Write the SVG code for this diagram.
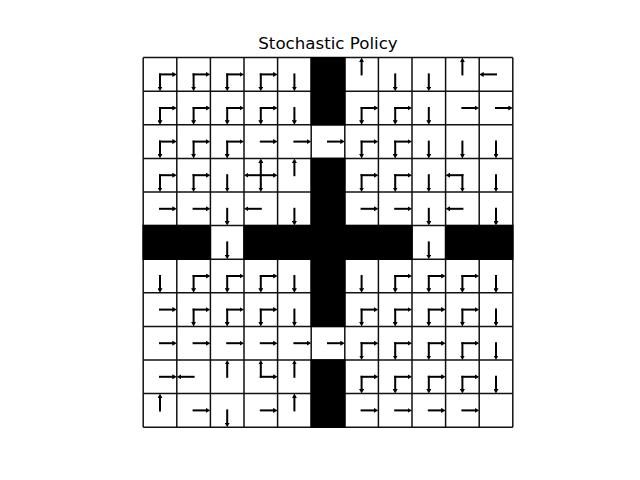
<svg xmlns="http://www.w3.org/2000/svg" xmlns:xlink="http://www.w3.org/1999/xlink" width="640" height="480" viewBox="0 0 640 480">
<style>
.title{font-family:"DejaVu Sans",sans-serif;font-size:16.67px;fill:#000}
.wall{fill:#000}
.grid line{stroke:#111;stroke-width:1.5}
.a{stroke:#000;stroke-width:2;stroke-linecap:square}
</style>
<defs>
<marker id="h" viewBox="0 0 4.5 5" refX="0" refY="2.5" markerWidth="4.5" markerHeight="5" markerUnits="userSpaceOnUse" orient="auto">
<path d="M0,0 L4.5,2.5 L0,5 z" fill="#000"/>
</marker>
<line id="R" class="a" x1="0" y1="0" x2="12.3" y2="0" marker-end="url(#h)"/>
<line id="L" class="a" x1="0" y1="0" x2="-12.3" y2="0" marker-end="url(#h)"/>
<line id="D" class="a" x1="0" y1="0" x2="0" y2="12.3" marker-end="url(#h)"/>
<line id="U" class="a" x1="0" y1="0" x2="0" y2="-12.3" marker-end="url(#h)"/>
</defs>
<rect width="640" height="480" fill="#fff"/>
<text class="title" x="328" y="49.3" text-anchor="middle">Stochastic Policy</text>
<g id="grid" class="grid">
<line x1="143.2" y1="57.6" x2="143.2" y2="427.2"/>
<line x1="176.8" y1="57.6" x2="176.8" y2="427.2"/>
<line x1="210.4" y1="57.6" x2="210.4" y2="427.2"/>
<line x1="244" y1="57.6" x2="244" y2="427.2"/>
<line x1="277.6" y1="57.6" x2="277.6" y2="427.2"/>
<line x1="311.2" y1="57.6" x2="311.2" y2="427.2"/>
<line x1="344.8" y1="57.6" x2="344.8" y2="427.2"/>
<line x1="378.4" y1="57.6" x2="378.4" y2="427.2"/>
<line x1="412" y1="57.6" x2="412" y2="427.2"/>
<line x1="445.6" y1="57.6" x2="445.6" y2="427.2"/>
<line x1="479.2" y1="57.6" x2="479.2" y2="427.2"/>
<line x1="512.8" y1="57.6" x2="512.8" y2="427.2"/>
<line x1="143.2" y1="57.6" x2="512.8" y2="57.6"/>
<line x1="143.2" y1="91.2" x2="512.8" y2="91.2"/>
<line x1="143.2" y1="124.8" x2="512.8" y2="124.8"/>
<line x1="143.2" y1="158.4" x2="512.8" y2="158.4"/>
<line x1="143.2" y1="192" x2="512.8" y2="192"/>
<line x1="143.2" y1="225.6" x2="512.8" y2="225.6"/>
<line x1="143.2" y1="259.2" x2="512.8" y2="259.2"/>
<line x1="143.2" y1="292.8" x2="512.8" y2="292.8"/>
<line x1="143.2" y1="326.4" x2="512.8" y2="326.4"/>
<line x1="143.2" y1="360" x2="512.8" y2="360"/>
<line x1="143.2" y1="393.6" x2="512.8" y2="393.6"/>
<line x1="143.2" y1="427.2" x2="512.8" y2="427.2"/>
</g>
<g id="walls" class="wall">
<rect x="310.5" y="57" width="35" height="68.5"/>
<rect x="310.5" y="157.7" width="35" height="169.4"/>
<rect x="310.5" y="359.3" width="35" height="68.6"/>
<rect x="142.5" y="224.9" width="68.6" height="35"/>
<rect x="243.3" y="224.9" width="169.4" height="35"/>
<rect x="444.9" y="224.9" width="68.6" height="35"/>
</g>
<g id="arrows">
<g id="row0" transform="translate(0,74.4)">
<g transform="translate(160,0)"><use href="#D"/><use href="#R"/></g>
<g transform="translate(193.6,0)"><use href="#D"/><use href="#R"/></g>
<g transform="translate(227.2,0)"><use href="#D"/><use href="#R"/></g>
<g transform="translate(260.8,0)"><use href="#D"/><use href="#R"/></g>
<g transform="translate(294.4,0)"><use href="#D"/></g>
<g transform="translate(361.6,0)"><use href="#U"/></g>
<g transform="translate(395.2,0)"><use href="#D"/></g>
<g transform="translate(428.8,0)"><use href="#D"/></g>
<g transform="translate(462.4,0)"><use href="#U"/></g>
<g transform="translate(496,0)"><use href="#L"/></g>
</g>
<g id="row1" transform="translate(0,108)">
<g transform="translate(160,0)"><use href="#D"/><use href="#R"/></g>
<g transform="translate(193.6,0)"><use href="#D"/><use href="#R"/></g>
<g transform="translate(227.2,0)"><use href="#D"/><use href="#R"/></g>
<g transform="translate(260.8,0)"><use href="#D"/><use href="#R"/></g>
<g transform="translate(294.4,0)"><use href="#D"/></g>
<g transform="translate(361.6,0)"><use href="#D"/><use href="#R"/></g>
<g transform="translate(395.2,0)"><use href="#D"/><use href="#R"/></g>
<g transform="translate(428.8,0)"><use href="#D"/></g>
<g transform="translate(462.4,0)"><use href="#R"/></g>
<g transform="translate(496,0)"><use href="#R"/></g>
</g>
<g id="row2" transform="translate(0,141.6)">
<g transform="translate(160,0)"><use href="#D"/><use href="#R"/></g>
<g transform="translate(193.6,0)"><use href="#D"/><use href="#R"/></g>
<g transform="translate(227.2,0)"><use href="#D"/><use href="#R"/></g>
<g transform="translate(260.8,0)"><use href="#R"/></g>
<g transform="translate(294.4,0)"><use href="#R"/></g>
<g transform="translate(328,0)"><use href="#R"/></g>
<g transform="translate(361.6,0)"><use href="#D"/><use href="#R"/></g>
<g transform="translate(395.2,0)"><use href="#D"/><use href="#R"/></g>
<g transform="translate(428.8,0)"><use href="#D"/></g>
<g transform="translate(462.4,0)"><use href="#D"/></g>
<g transform="translate(496,0)"><use href="#D"/></g>
</g>
<g id="row3" transform="translate(0,175.2)">
<g transform="translate(160,0)"><use href="#D"/><use href="#R"/></g>
<g transform="translate(193.6,0)"><use href="#D"/><use href="#R"/></g>
<g transform="translate(227.2,0)"><use href="#D"/></g>
<g transform="translate(260.8,0)"><use href="#U"/><use href="#D"/><use href="#L"/><use href="#R"/></g>
<g transform="translate(294.4,0)"><use href="#U"/></g>
<g transform="translate(361.6,0)"><use href="#D"/><use href="#R"/></g>
<g transform="translate(395.2,0)"><use href="#D"/><use href="#R"/></g>
<g transform="translate(428.8,0)"><use href="#D"/></g>
<g transform="translate(462.4,0)"><use href="#L"/><use href="#D"/></g>
<g transform="translate(496,0)"><use href="#D"/></g>
</g>
<g id="row4" transform="translate(0,208.8)">
<g transform="translate(160,0)"><use href="#R"/></g>
<g transform="translate(193.6,0)"><use href="#R"/></g>
<g transform="translate(227.2,0)"><use href="#D"/></g>
<g transform="translate(260.8,0)"><use href="#L"/></g>
<g transform="translate(294.4,0)"><use href="#D"/></g>
<g transform="translate(361.6,0)"><use href="#R"/></g>
<g transform="translate(395.2,0)"><use href="#R"/></g>
<g transform="translate(428.8,0)"><use href="#D"/></g>
<g transform="translate(462.4,0)"><use href="#L"/></g>
<g transform="translate(496,0)"><use href="#D"/></g>
</g>
<g id="row5" transform="translate(0,242.4)">
<g transform="translate(227.2,0)"><use href="#D"/></g>
<g transform="translate(428.8,0)"><use href="#D"/></g>
</g>
<g id="row6" transform="translate(0,276)">
<g transform="translate(160,0)"><use href="#D"/></g>
<g transform="translate(193.6,0)"><use href="#D"/><use href="#R"/></g>
<g transform="translate(227.2,0)"><use href="#D"/><use href="#R"/></g>
<g transform="translate(260.8,0)"><use href="#D"/><use href="#R"/></g>
<g transform="translate(294.4,0)"><use href="#D"/></g>
<g transform="translate(361.6,0)"><use href="#D"/></g>
<g transform="translate(395.2,0)"><use href="#D"/><use href="#R"/></g>
<g transform="translate(428.8,0)"><use href="#D"/><use href="#R"/></g>
<g transform="translate(462.4,0)"><use href="#D"/><use href="#R"/></g>
<g transform="translate(496,0)"><use href="#D"/></g>
</g>
<g id="row7" transform="translate(0,309.6)">
<g transform="translate(160,0)"><use href="#R"/></g>
<g transform="translate(193.6,0)"><use href="#D"/><use href="#R"/></g>
<g transform="translate(227.2,0)"><use href="#D"/><use href="#R"/></g>
<g transform="translate(260.8,0)"><use href="#D"/><use href="#R"/></g>
<g transform="translate(294.4,0)"><use href="#D"/></g>
<g transform="translate(361.6,0)"><use href="#D"/><use href="#R"/></g>
<g transform="translate(395.2,0)"><use href="#D"/><use href="#R"/></g>
<g transform="translate(428.8,0)"><use href="#D"/><use href="#R"/></g>
<g transform="translate(462.4,0)"><use href="#D"/><use href="#R"/></g>
<g transform="translate(496,0)"><use href="#D"/></g>
</g>
<g id="row8" transform="translate(0,343.2)">
<g transform="translate(160,0)"><use href="#R"/></g>
<g transform="translate(193.6,0)"><use href="#R"/></g>
<g transform="translate(227.2,0)"><use href="#R"/></g>
<g transform="translate(260.8,0)"><use href="#R"/></g>
<g transform="translate(294.4,0)"><use href="#R"/></g>
<g transform="translate(328,0)"><use href="#R"/></g>
<g transform="translate(361.6,0)"><use href="#D"/><use href="#R"/></g>
<g transform="translate(395.2,0)"><use href="#D"/><use href="#R"/></g>
<g transform="translate(428.8,0)"><use href="#D"/><use href="#R"/></g>
<g transform="translate(462.4,0)"><use href="#D"/><use href="#R"/></g>
<g transform="translate(496,0)"><use href="#D"/></g>
</g>
<g id="row9" transform="translate(0,376.8)">
<g transform="translate(160,0)"><use href="#R"/></g>
<g transform="translate(193.6,0)"><use href="#L"/></g>
<g transform="translate(227.2,0)"><use href="#U"/></g>
<g transform="translate(260.8,0)"><use href="#U"/><use href="#R"/></g>
<g transform="translate(294.4,0)"><use href="#U"/></g>
<g transform="translate(361.6,0)"><use href="#D"/><use href="#R"/></g>
<g transform="translate(395.2,0)"><use href="#D"/><use href="#R"/></g>
<g transform="translate(428.8,0)"><use href="#D"/><use href="#R"/></g>
<g transform="translate(462.4,0)"><use href="#D"/><use href="#R"/></g>
<g transform="translate(496,0)"><use href="#D"/></g>
</g>
<g id="row10" transform="translate(0,410.4)">
<g transform="translate(160,0)"><use href="#U"/></g>
<g transform="translate(193.6,0)"><use href="#R"/></g>
<g transform="translate(227.2,0)"><use href="#D"/></g>
<g transform="translate(260.8,0)"><use href="#R"/></g>
<g transform="translate(294.4,0)"><use href="#U"/></g>
<g transform="translate(361.6,0)"><use href="#R"/></g>
<g transform="translate(395.2,0)"><use href="#R"/></g>
<g transform="translate(428.8,0)"><use href="#R"/></g>
<g transform="translate(462.4,0)"><use href="#R"/></g>
</g>
</g>
</svg>
